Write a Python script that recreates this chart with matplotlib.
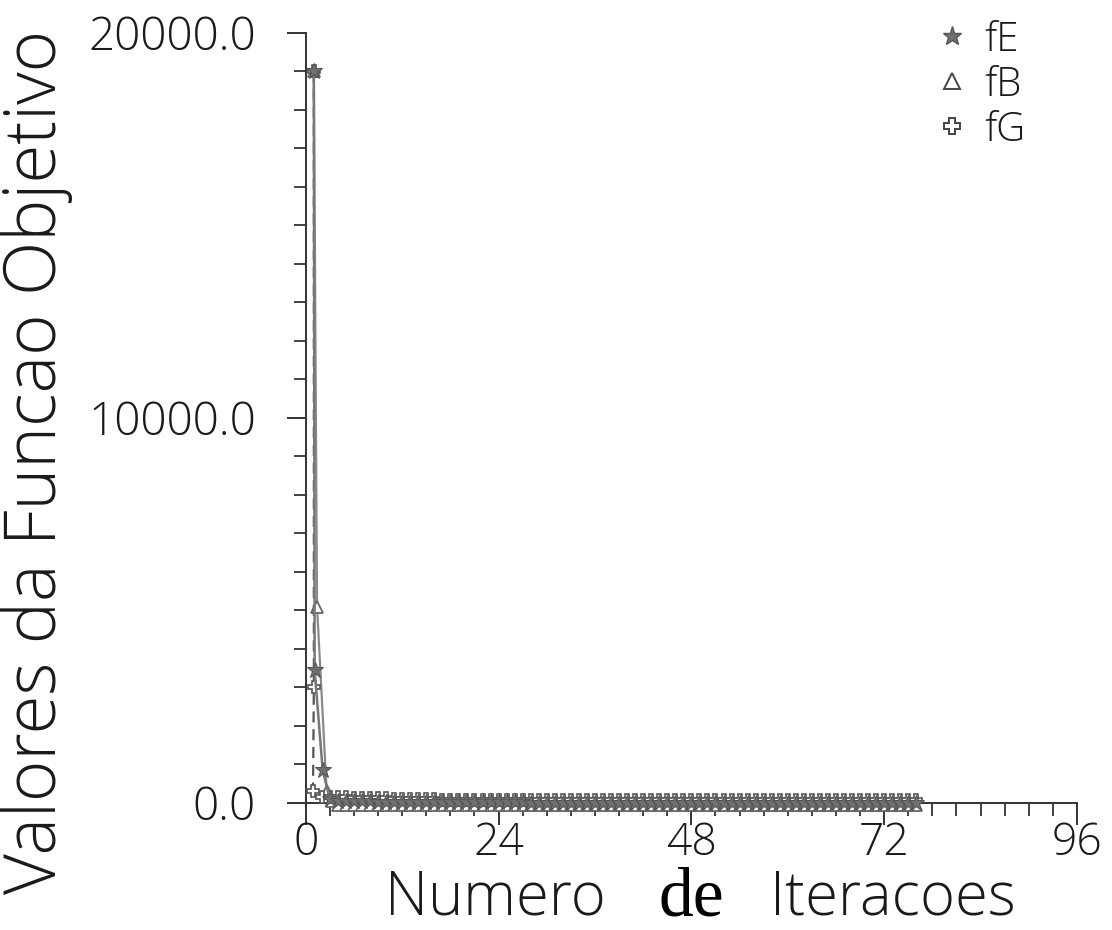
import matplotlib.pyplot as plt
from matplotlib.ticker import MultipleLocator, FixedLocator

# ---------------- dados ----------------
# inicio das curvas
fe_head_x = [1.0, 1.1, 2.1, 3.0]
fe_head_y = [19000, 3450, 850, 90]
fb_head_x = [1.0, 1.4, 2.6, 3.3]
fb_head_y = [19000, 5100, 300, 60]
fg_head_x = [1.0, 1.0, 0.9, 2.0, 3.0]
fg_head_y = [19000, 3000, 300, 160, 150]

# cauda quase nula (iteracoes 4..76)
tail_x = list(range(4, 77))
fe_tail = [60, 50, 45, 40, 38, 35, 32, 30, 28, 26,
           25, 24, 22, 21, 20, 19, 18, 17, 16, 15,
           14, 13, 12, 12, 11, 10, 10, 9, 9, 8,
           8, 7, 7, 6, 6, 6, 5, 5, 5, 4,
           4, 4, 4, 3, 3, 3, 3, 3, 2, 2,
           2, 2, 2, 2, 1, 1, 1, 1, 1, 1,
           1, 1, 1, 0, 0, 0, 0, 0, 0, 0,
           0, 0, 0]
fb_tail = [-40, -45, -50, -50, -55, -55, -60, -60, -60, -60,
           -60, -60, -60, -60, -60, -60, -60, -60, -60, -60,
           -60, -60, -60, -60, -60, -60, -60, -60, -60, -60,
           -60, -60, -60, -60, -60, -60, -60, -60, -60, -60,
           -60, -60, -60, -60, -60, -60, -60, -60, -60, -60,
           -60, -60, -60, -60, -60, -60, -60, -60, -60, -60,
           -60, -60, -60, -60, -60, -60, -60, -60, -60, -60,
           -60, -60, -60]
fg_tail = [150, 145, 140, 135, 130, 125, 120, 115, 110, 100,
           95, 90, 90, 85, 85, 80, 80, 80, 80, 80,
           80, 80, 80, 80, 80, 80, 80, 80, 80, 80,
           80, 80, 80, 80, 80, 80, 80, 80, 80, 80,
           80, 80, 80, 80, 80, 80, 80, 80, 80, 80,
           80, 80, 80, 80, 80, 80, 80, 80, 80, 80,
           80, 80, 80, 80, 80, 80, 80, 80, 80, 80,
           80, 80, 80]

labels = ["fE", "fB", "fG"]
x_ticks = [0, 24, 48, 72, 96]
y_ticks = [0, 10000, 20000]
y_ticklabels = ["0.0", "10000.0", "20000.0"]

# ---------------- figura ----------------
plt.rcParams["font.family"] = ["Open Sans", "DejaVu Sans"]
plt.rcParams["font.weight"] = "light"
txt = "#1a1a1a"

fig = plt.figure(figsize=(11.12, 9.3), dpi=100)
ax = fig.add_axes([0.275, 0.1366, 0.6935, 0.828])

fe_x = fe_head_x + tail_x
fe_y = fe_head_y + fe_tail
fb_x = fb_head_x + tail_x
fb_y = fb_head_y + fb_tail
fg_x = fg_head_x + tail_x
fg_y = fg_head_y + fg_tail

ax.plot(fb_x, fb_y, color="#8a8a8a", lw=1.6, marker="^", ms=9,
        mfc="white", mec="#666666", mew=1.3, clip_on=False, zorder=3)
ax.plot(fg_x, fg_y, color="#555555", lw=1.6, ls=(0, (5, 3)), marker="P", ms=9,
        mfc="white", mec="#555555", mew=1.2, clip_on=False, zorder=4)
ax.plot(fe_x, fe_y, color="#777777", lw=1.8, marker="*", ms=12,
        mfc="#707070", mec="#555555", mew=0.8, clip_on=False, zorder=5)

ax.set_xlim(0, 96)
ax.set_ylim(0, 20000)
for s in ["top", "right"]:
    ax.spines[s].set_visible(False)
for s in ["left", "bottom"]:
    ax.spines[s].set_color("#333333")
    ax.spines[s].set_linewidth(1.4)

ax.xaxis.set_major_locator(FixedLocator(x_ticks))
ax.xaxis.set_minor_locator(MultipleLocator(3))
ax.yaxis.set_major_locator(FixedLocator(y_ticks))
ax.yaxis.set_minor_locator(MultipleLocator(1000))
ax.set_yticklabels(y_ticklabels)

ax.tick_params(axis="x", which="major", direction="out", length=16, width=1.4,
               color="#333333", labelsize=32, labelcolor=txt, pad=-3)
ax.tick_params(axis="x", which="minor", direction="out", length=9, width=1.3,
               color="#333333")
ax.tick_params(axis="y", which="major", direction="out", length=14, width=1.4,
               color="#333333", labelsize=33, labelcolor=txt, pad=22)
ax.tick_params(axis="y", which="minor", direction="out", length=9, width=1.3,
               color="#333333")

# legenda so com marcadores
h1, = ax.plot([], [], ls="none", marker="*", ms=14, mfc="#707070", mec="#555555")
h2, = ax.plot([], [], ls="none", marker="^", ms=11, mfc="white", mec="#444444", mew=1.4)
h3, = ax.plot([], [], ls="none", marker="P", ms=11, mfc="white", mec="#444444", mew=1.4)
leg = fig.legend([h1, h2, h3], labels, loc="upper right",
                 bbox_to_anchor=(0.955, 1.018), frameon=False, fontsize=29,
                 handlelength=0.6, handletextpad=0.5, labelspacing=0.1)
for t in leg.get_texts():
    t.set_color(txt)

# rotulos dos eixos
fig.text(0.033, 0.503, "Valores da Funcao Objetivo", rotation=90,
         ha="center", va="center", fontsize=51, color=txt)
fig.text(0.346, 0.034, "Numero", ha="left", va="center", fontsize=43, color=txt)
fig.text(0.622, 0.034, "de", ha="center", va="center", fontsize=50,
         family="Liberation Serif", weight="normal", color="black")
fig.text(0.692, 0.034, "Iteracoes", ha="left", va="center", fontsize=43, color=txt)

fig.savefig("out.png", dpi=100, facecolor="white")
